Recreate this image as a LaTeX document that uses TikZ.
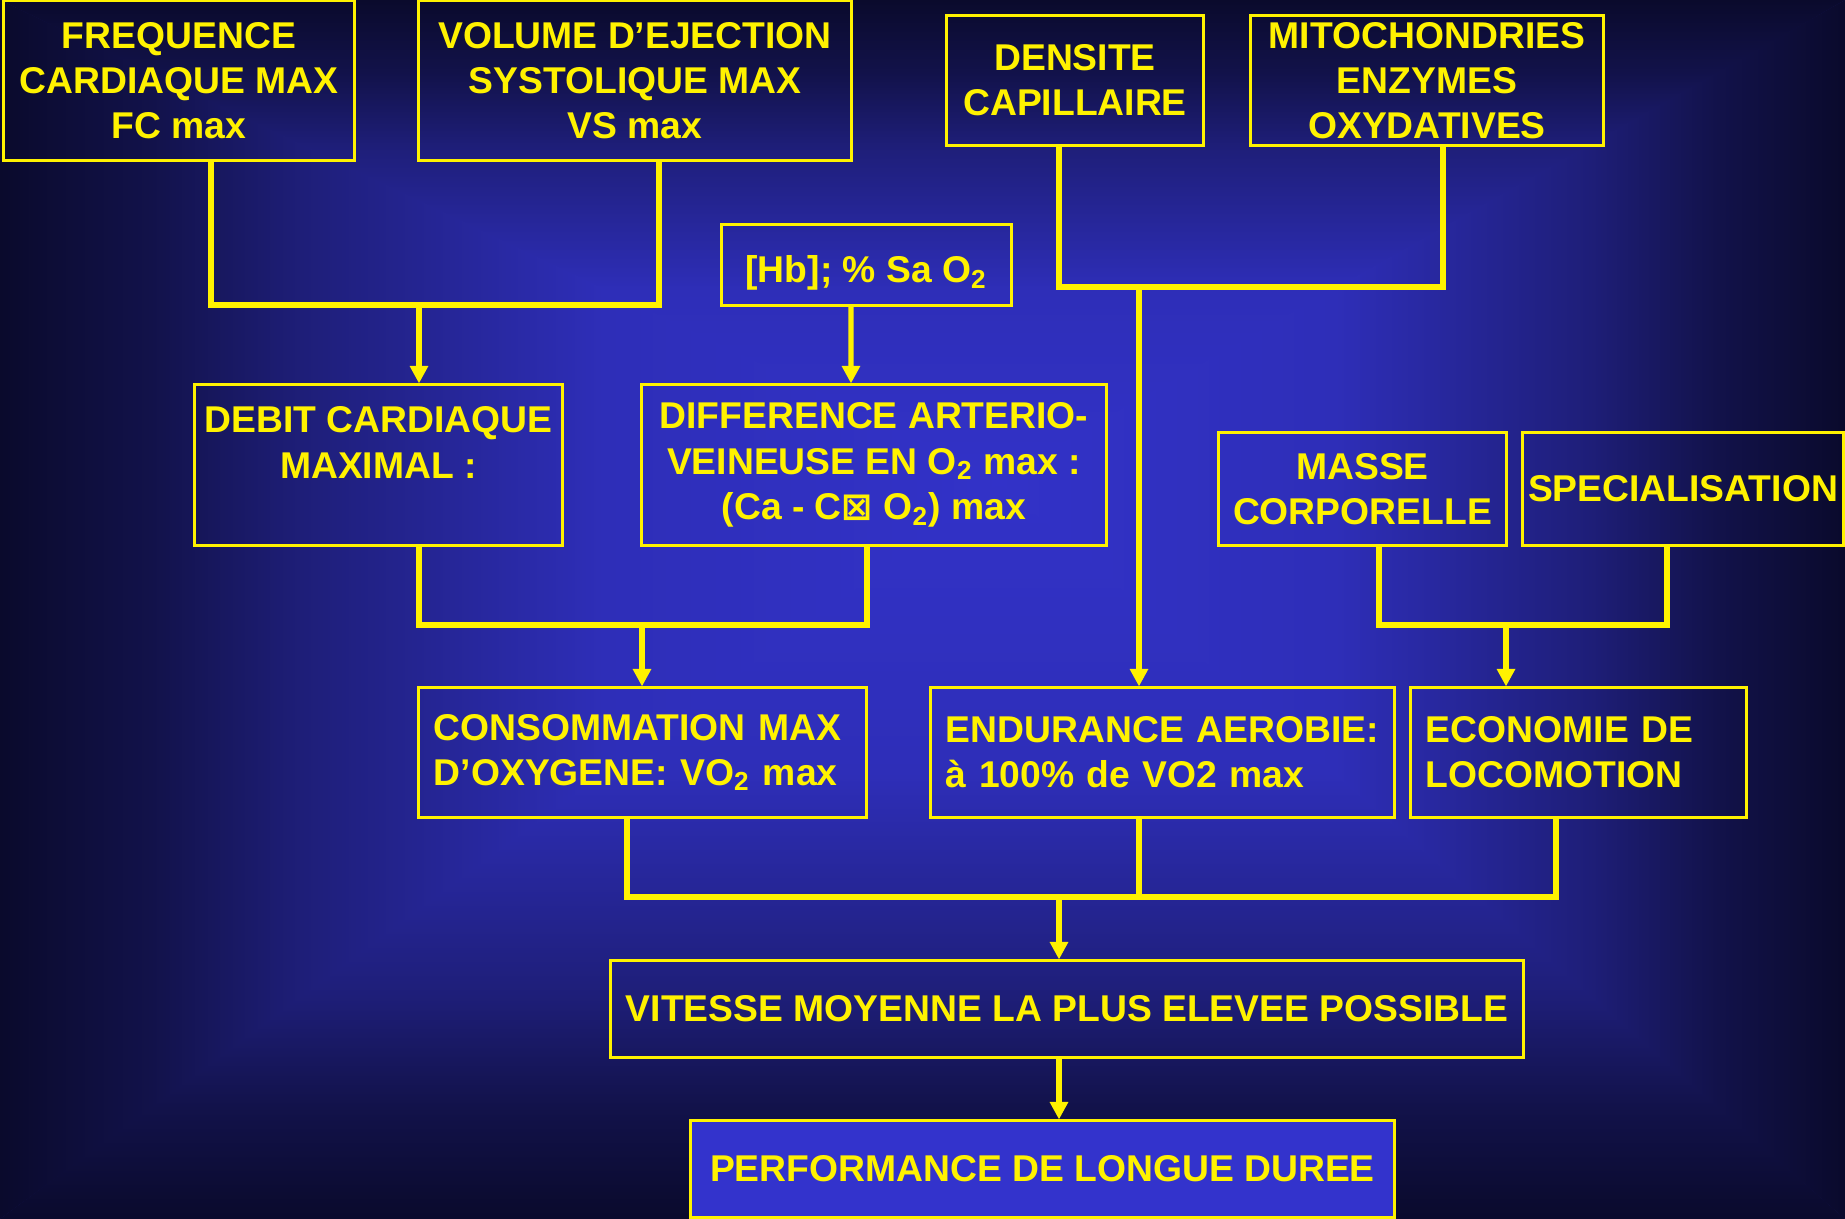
\documentclass[tikz,border=0pt]{standalone}
\usepackage{fontspec}
\setmainfont{Liberation Sans}
\newfontfamily\boxglyph{DejaVu Sans}
\usetikzlibrary{arrows.meta}

\definecolor{bgcore}{RGB}{50,50,200}
\definecolor{bgsoft}{RGB}{46,46,184}
\definecolor{bgmid}{RGB}{30,30,120}
\definecolor{bgdark}{RGB}{18,18,74}
\definecolor{bgedge}{RGB}{10,10,44}
\definecolor{perfblue}{RGB}{51,51,204}
% fade from the centre (bottom) to the slide edge (top)
\pgfdeclareverticalshading{edgefade}{100bp}{color(0bp)=(bgcore); color(25bp)=(bgcore); color(45bp)=(bgsoft); color(60bp)=(bgmid); color(67.5bp)=(bgdark); color(75bp)=(bgedge); color(100bp)=(bgedge)}

\newcommand\slidefont{\fontsize{10.6}{12.85}\selectfont\bfseries}

\tikzset{
	box/.style={draw=yellow, line width=0.85pt, text=yellow, font=\slidefont, inner sep=0pt, align=center},
	leftbox/.style={box, align=left, inner xsep=0.15cm},
	bus/.style={yellow, line width=1.5pt},
	arr/.style={bus, -{Triangle[width=5pt,length=5pt]}},
}

\begin{document}
\begin{tikzpicture}[x=0.01cm, y=-0.01cm]
	\useasboundingbox (0,0) rectangle (1845,1219);
	% background
	\fill[bgmid] (0,0) rectangle (1845,1219);
	\shade[shading=edgefade] (1000,484) -- (0,0) -- (1845,0) -- cycle;
	\shade[shading=edgefade, shading angle=180] (1000,476) -- (0,1219) -- (1845,1219) -- cycle;
	\shade[shading=edgefade, shading angle=90] (1004,480) -- (0,0) -- (0,1219) -- cycle;
	\shade[shading=edgefade, shading angle=270] (996,480) -- (1845,0) -- (1845,1219) -- cycle;

	% top row
	\node[box, minimum width=3.5cm, minimum height=1.59cm] (fc) at (179,80.5) {FREQUENCE\\CARDIAQUE MAX\\FC max};
	\node[box, minimum width=4.32cm, minimum height=1.59cm] (vs) at (635,80.5) {VOLUME D’EJECTION\\SYSTOLIQUE MAX\\VS max};
	\node[box, minimum width=2.56cm, minimum height=1.29cm] (dens) at (1075,80.5) {DENSITE\\CAPILLAIRE};
	\node[box, minimum width=3.52cm, minimum height=1.29cm] (mito) at (1427,80.5) {MITOCHONDRIES\\ENZYMES\\OXYDATIVES};
	\node[box, minimum width=2.89cm, minimum height=0.8cm, text height=12.5pt, text depth=2.4pt] (hb) at (866.5,265) {[Hb]; \% Sa O\textsubscript{2}};

	% middle row
	\node[box, minimum width=3.67cm, minimum height=1.6cm] (debit) at (378.5,465) {DEBIT CARDIAQUE\\MAXIMAL :\\\mbox{}};
	\node[box, minimum width=4.64cm, minimum height=1.6cm] (diff) at (874,465) {DIFFERENCE ARTERIO-\\VEINEUSE EN O\textsubscript{2} max :\\(Ca - C{\boxglyph ⊠} O\textsubscript{2}) max};
	\node[box, minimum width=2.87cm, minimum height=1.12cm] (masse) at (1362.5,489) {MASSE\\CORPORELLE};
	\node[box, minimum width=3.2cm, minimum height=1.12cm] (spec) at (1683,489) {SPECIALISATION};

	% lower row
	\node[leftbox, text width=4.17cm, minimum height=1.29cm] (conso) at (642.5,752.5) {CONSOMMATION MAX\\D’OXYGENE: VO\textsubscript{2} max};
	\node[leftbox, text width=4.33cm, minimum height=1.29cm] (endu) at (1162.5,752.5) {ENDURANCE AEROBIE:\\à 100\% de VO2 max};
	\node[leftbox, text width=3.05cm, minimum height=1.29cm] (eco) at (1578.5,752.5) {ECONOMIE DE\\LOCOMOTION};

	\node[box, minimum width=9.12cm, minimum height=0.96cm] (vit) at (1067,1009) {VITESSE MOYENNE LA PLUS ELEVEE POSSIBLE};
	\node[box, fill=perfblue, minimum width=7.03cm, minimum height=0.96cm] (perf) at (1042.5,1169) {PERFORMANCE DE LONGUE DUREE};

	% junctions
	\coordinate (j1) at (419,305);
	\coordinate (j2) at (1139,287);
	\coordinate (j3) at (642,625);
	\coordinate (j4) at (1506,625);
	\coordinate (j5) at (1059,897);

	\draw[bus] ([xshift=0.32cm]fc.south) |- (j1) -| ([xshift=0.24cm]vs.south);
	\draw[arr] (j1) -- (debit.north -| j1);
	\draw[arr] ([xshift=-0.155cm]hb.south) -- ([xshift=-0.23cm]diff.north);
	\draw[bus] ([xshift=-0.16cm]dens.south) |- (j2) -| ([xshift=0.16cm]mito.south);
	\draw[arr] (j2) -- (endu.north -| j2);
	\draw[bus] ([xshift=0.405cm]debit.south) |- (j3) -| ([xshift=-0.07cm]diff.south);
	\draw[arr] (j3) -- (conso.north -| j3);
	\draw[bus] ([xshift=0.165cm]masse.south) |- (j4) -| ([xshift=-0.16cm]spec.south);
	\draw[arr] (j4) -- (eco.north -| j4);
	\draw[bus] ([xshift=-0.155cm]conso.south) |- (j5) -| ([xshift=-0.225cm]eco.south);
	\draw[bus] ([xshift=-0.235cm]endu.south) |- (j5);
	\draw[arr] (j5) -- (vit.north -| j5);
	\draw[arr] (vit.south -| j5) -- (perf.north -| j5);
\end{tikzpicture}
\end{document}
